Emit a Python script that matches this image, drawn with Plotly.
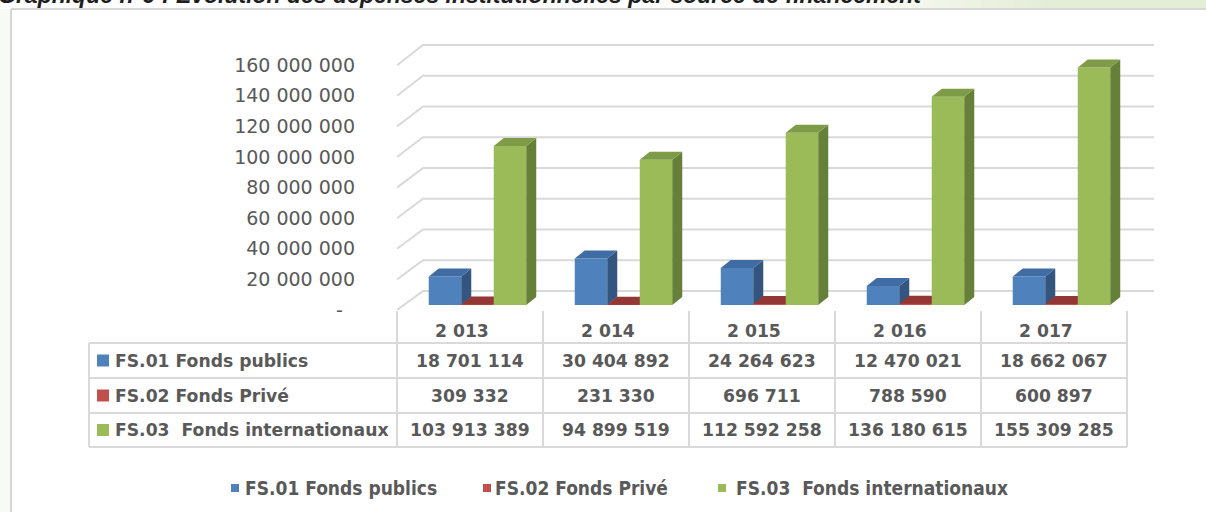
import plotly.graph_objects as go

# ---------------- data ----------------
years = [2013, 2014, 2015, 2016, 2017]
series_names = ["FS.01 Fonds publics", "FS.02 Fonds Privé", "FS.03  Fonds internationaux"]
fonds_publics = [18701114, 30404892, 24264623, 12470021, 18662067]
fonds_prive = [309332, 231330, 696711, 788590, 600897]
fonds_internationaux = [103913389, 94899519, 112592258, 136180615, 155309285]
series_values = [fonds_publics, fonds_prive, fonds_internationaux]
y_tick_values = [0, 20000000, 40000000, 60000000, 80000000,
                 100000000, 120000000, 140000000, 160000000]
title_text = "Graphique n°9 : Evolution des dépenses institutionnelles par source de financement"

# ---------------- style ----------------
front_colors = ["#4F81BD", "#C0504D", "#9BBB59"]
top_colors = ["#3F6CA2", "#943634", "#7E9C47"]
side_colors = ["#34557F", "#7A2C2A", "#66803A"]
grid_color = "#D9D9D9"
text_color = "#595959"


def fmt(n):
    return f"{int(round(n)):,}".replace(",", " ")


W, H = 1206, 512
CAT_PX = 146.0          # pixels per category
CAT0_PX = 470.0         # pixel x of first category centre
PLOT_L, PLOT_R = 397, 1160
ZERO_PX, PLOT_T = 310, 30
Y_PX_PER_UNIT = 1.53e-6


def xu(px):
    return (px - CAT0_PX) / CAT_PX


def px_x(u):
    return CAT0_PX + u * CAT_PX


def yu(px_len):
    return px_len / Y_PX_PER_UNIT


def pxp(px):
    return px / W


def pyp(py):
    return 1 - py / H


bar_w = 32.5 / CAT_PX
group_shift = 7.5 / CAT_PX
offsets = [group_shift + (k - 1) * bar_w for k in range(3)]
bar_base = yu(5)
depth_dx = 10 / CAT_PX
depth_dy = yu(8)
wall_dx = 26 / CAT_PX
wall_dy = yu(19)
wall_scale = 1.005
wall_right = xu(1154)

fig = go.Figure()

# back-wall gridlines (main subplot, drawn beneath the bars)
gx, gy = [], []
for v in y_tick_values:
    bv = wall_dy + v * wall_scale
    gx += [xu(PLOT_L), xu(PLOT_L) + wall_dx, wall_right, None]
    gy += [v, bv, bv, None]
fig.add_trace(go.Scatter(x=gx, y=gy, mode="lines", line=dict(color=grid_color, width=2),
                         hoverinfo="skip", showlegend=False))

# 3D bars: one overlaid subplot per series so that painter's order is respected
for k, (name, vals) in enumerate(zip(series_names, series_values)):
    ax = str(k + 2)
    xs = [i + offsets[k] for i in range(len(years))]
    fig.add_trace(go.Bar(
        x=xs, y=vals, base=bar_base, width=bar_w, offset=-bar_w / 2,
        marker=dict(color=front_colors[k], line=dict(width=0)),
        name=name, customdata=[fmt(y) for y in years],
        hovertemplate="%{customdata}<br>" + name + ": %{y:,.0f}<extra></extra>",
        xaxis="x" + ax, yaxis="y" + ax, showlegend=False))
    sx, sy, tx, ty = [], [], [], []
    for x, v in zip(xs, vals):
        xl, xr = x - bar_w / 2, x + bar_w / 2
        b, t = bar_base, bar_base + v
        sx += [xr, xr, xr + depth_dx, xr + depth_dx, xr, None]
        sy += [b, t, t + depth_dy, b + depth_dy, b, None]
        tx += [xl, xr, xr + depth_dx, xl + depth_dx, xl, None]
        ty += [t, t, t + depth_dy, t + depth_dy, t, None]
    fig.add_trace(go.Scatter(x=sx, y=sy, mode="lines", fill="toself", fillcolor=side_colors[k],
                             line=dict(width=0, color=side_colors[k]), hoverinfo="skip",
                             showlegend=False, xaxis="x" + ax, yaxis="y" + ax))
    fig.add_trace(go.Scatter(x=tx, y=ty, mode="lines", fill="toself", fillcolor=top_colors[k],
                             line=dict(width=0, color=top_colors[k]), hoverinfo="skip",
                             showlegend=False, xaxis="x" + ax, yaxis="y" + ax))

x_range = [xu(PLOT_L), xu(PLOT_R)]
y_range = [0, yu(ZERO_PX - PLOT_T)]
dom_x = [PLOT_L / W, PLOT_R / W]
dom_y = [pyp(ZERO_PX), pyp(PLOT_T)]

tick_text = [("-\u00a0\u00a0" if v == 0 else fmt(v)) for v in y_tick_values]

layout = dict(
    width=W, height=H, autosize=False,
    margin=dict(l=0, r=0, t=0, b=0, pad=0, autoexpand=False),
    paper_bgcolor="white", plot_bgcolor="rgba(0,0,0,0)",
    showlegend=False,
    xaxis=dict(domain=dom_x, range=x_range, showgrid=False, zeroline=False, automargin=False,
               showticklabels=False, showline=False, fixedrange=True),
    yaxis=dict(domain=dom_y, range=y_range, showgrid=False, zeroline=False, showline=False,
               automargin=False,
               tickmode="array", tickvals=y_tick_values, ticktext=tick_text, ticks="",
               ticklabelstandoff=41,
               tickfont=dict(family="DejaVu Sans", size=19, color=text_color), fixedrange=True),
)
for k in range(3):
    ax = str(k + 2)
    layout["xaxis" + ax] = dict(overlaying="x", matches="x", visible=False, range=x_range,
                                automargin=False)
    layout["yaxis" + ax] = dict(overlaying="y", matches="y", visible=False, range=y_range,
                                automargin=False)
fig.update_layout(**layout)

shapes = []
# top-right gradient band
band_x0, band_x1, steps = 820, 1206, 24
c0, c1 = (255, 255, 255), (228, 237, 214)
for s in range(steps):
    f = min(1.0, (s + 0.5) / (steps * 0.6))
    col = "rgb(%d,%d,%d)" % tuple(int(c0[j] + (c1[j] - c0[j]) * f) for j in range(3))
    xa = band_x0 + (band_x1 - band_x0) * s / steps
    xb = band_x0 + (band_x1 - band_x0) * (s + 1) / steps + 1
    shapes.append(dict(type="rect", xref="paper", yref="paper", x0=pxp(xa), x1=pxp(xb),
                       y0=pyp(8), y1=1, fillcolor=col, line=dict(width=0), layer="below"))
# left strip and frame
shapes.append(dict(type="rect", xref="paper", yref="paper", x0=0, x1=pxp(10), y0=0, y1=pyp(9),
                   fillcolor="#F8FAF5", line=dict(width=0), layer="below"))
shapes.append(dict(type="line", xref="paper", yref="paper", x0=pxp(11), x1=1, y0=pyp(9), y1=pyp(9),
                   line=dict(color="#D6D6D6", width=2)))
shapes.append(dict(type="line", xref="paper", yref="paper", x0=pxp(11), x1=pxp(11), y0=0, y1=pyp(9),
                   line=dict(color="#D6D6D6", width=2)))

# data table
TABLE_L = 89
row_lines = [343, 378, 413, 447]
header_y = 331
row_centers = [(row_lines[i] + row_lines[i + 1]) / 2 for i in range(3)]
col_edges = [px_x(i - 0.5) for i in range(len(years) + 1)]
for yl in row_lines:
    shapes.append(dict(type="line", xref="paper", yref="paper", x0=pxp(TABLE_L), x1=pxp(col_edges[-1]),
                       y0=pyp(yl), y1=pyp(yl), line=dict(color=grid_color, width=2)))
shapes.append(dict(type="line", xref="paper", yref="paper", x0=pxp(TABLE_L), x1=pxp(TABLE_L),
                   y0=pyp(row_lines[0]), y1=pyp(row_lines[-1]), line=dict(color=grid_color, width=2)))
for xe in col_edges:
    shapes.append(dict(type="line", xref="paper", yref="paper", x0=pxp(xe), x1=pxp(xe),
                       y0=pyp(311), y1=pyp(row_lines[-1]), line=dict(color=grid_color, width=2)))

annotations = []
tfont = dict(family="DejaVu Sans", size=17.2, color=text_color, weight="bold")
for i, yr in enumerate(years):
    annotations.append(dict(text=fmt(yr), x=pxp(px_x(i)), y=pyp(header_y), xref="paper", yref="paper",
                            xanchor="center", yanchor="middle", xshift=-8, showarrow=False, font=tfont))
for r, (name, vals) in enumerate(zip(series_names, series_values)):
    yc = row_centers[r]
    shapes.append(dict(type="rect", xref="paper", yref="paper", x0=pxp(97), x1=pxp(109),
                       y0=pyp(yc + 6), y1=pyp(yc - 6), fillcolor=front_colors[r], line=dict(width=0)))
    annotations.append(dict(text=name.replace("  ", "\u00a0 "), x=pxp(113), y=pyp(yc), xref="paper",
                            yref="paper", xanchor="left", yanchor="middle", showarrow=False, font=tfont))
    for i, v in enumerate(vals):
        annotations.append(dict(text=fmt(v), x=pxp(px_x(i)), y=pyp(yc), xref="paper", yref="paper",
                                xanchor="center", yanchor="middle", showarrow=False, font=tfont))

# legend (bottom)
legend_sq_x = [231, 483, 718]
legend_txt_x = [243, 493, 734]
legend_y = 488
lfont = dict(family="DejaVu Sans Condensed, DejaVu Sans", size=19, color=text_color, weight="bold")
for k, name in enumerate(series_names):
    shapes.append(dict(type="rect", xref="paper", yref="paper", x0=pxp(legend_sq_x[k]),
                       x1=pxp(legend_sq_x[k] + 8), y0=pyp(legend_y + 4), y1=pyp(legend_y - 4),
                       fillcolor=front_colors[k], line=dict(width=0)))
    annotations.append(dict(text=name.replace("  ", "\u00a0 "), x=pxp(legend_txt_x[k]), y=pyp(legend_y),
                            xref="paper", yref="paper", xanchor="left", yanchor="middle",
                            showarrow=False, font=lfont))

# cropped title at the very top
annotations.append(dict(text=title_text, x=0, y=pyp(-5), xref="paper", yref="paper", xanchor="left",
                        yanchor="middle", xshift=-4, showarrow=False,
                        font=dict(family="Liberation Sans", size=23, color="#1E1E1E",
                                  weight="bold", style="italic")))

fig.update_layout(shapes=shapes, annotations=annotations)

fit_page = (
    "var s=document.createElement('style');"
    "s.textContent='html,body{margin:0!important;padding:0!important;overflow:hidden!important;"
    "width:1206px;height:512px;}';"
    "document.head.appendChild(s);"
)
fig.write_html("out.html", config={"displayModeBar": False, "responsive": False},
               post_script=fit_page)
